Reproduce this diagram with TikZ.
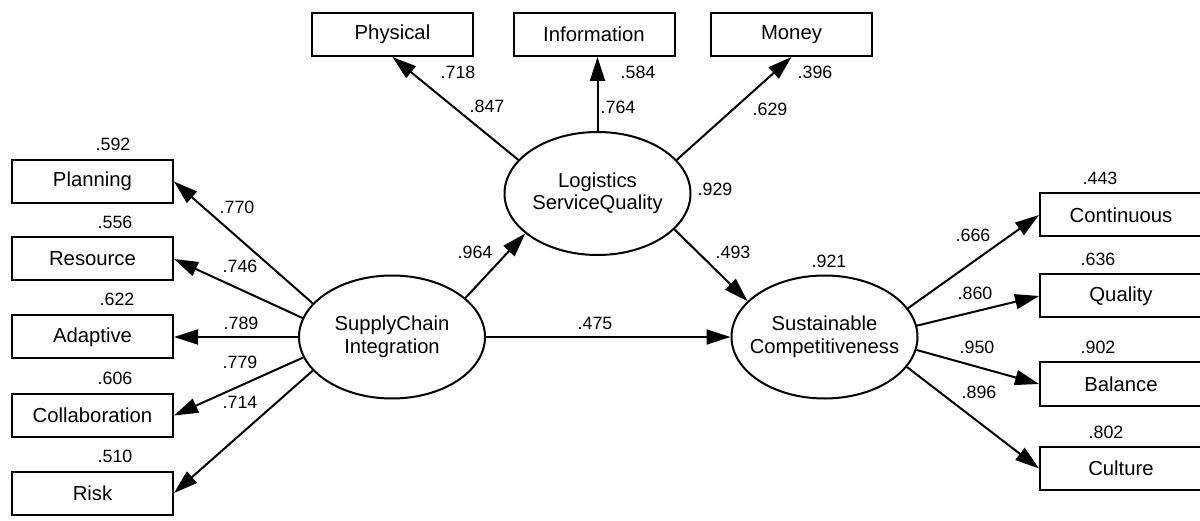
\documentclass[tikz,border=0pt]{standalone}
\usepackage{fontspec}
\setmainfont{Liberation Sans}
\usetikzlibrary{arrows.meta,shapes.geometric}
\tikzset{
  obsbox/.style={draw=black,line width=2pt,rectangle,minimum width=161pt,minimum height=43pt,inner sep=0pt,font=\fontsize{20.3}{22}\selectfont},
  latent/.style={draw=black,line width=2pt,ellipse,minimum width=186pt,minimum height=123pt,inner ysep=0pt,inner xsep=-14pt,align=center,font=\fontsize{20.2}{22.5}\selectfont},
  arr/.style={line width=2pt,-{Triangle[length=24pt,width=15pt]}},
  num/.style={inner sep=0pt,font=\fontsize{17.8}{20}\selectfont}
}
\begin{document}
\begin{tikzpicture}[x=1pt,y=-1pt]
\useasboundingbox (0,0) rectangle (1200,521);
% top indicators
\node[obsbox] (physical) at (392.5,34.5) {Physical};
\node[obsbox] (information) at (594,34.5) {Information};
\node[obsbox] (money) at (791.5,34.5) {Money};
% left indicators
\node[obsbox] (planning) at (92.5,181.5) {Planning};
\node[obsbox] (resource) at (92.5,259) {Resource};
\node[obsbox] (adaptive) at (92.5,337) {Adaptive};
\node[obsbox] (collab) at (92.5,415.5) {Collaboration};
\node[obsbox] (risk) at (92.5,493) {Risk};
% right indicators
\node[obsbox,minimum width=162pt] (continuous) at (1121,215) {Continuous};
\node[obsbox,minimum width=162pt] (quality) at (1121,296) {Quality};
\node[obsbox,minimum width=162pt] (balance) at (1121,384) {Balance};
\node[obsbox,minimum width=162pt] (culture) at (1121,468.5) {Culture};
% latent variables
\node[latent] (lsq) at (597.5,193.5) {Logistics\\ServiceQuality};
\node[latent] (sci) at (392,337) {SupplyChain\\Integration};
\node[latent] (sc) at (824.5,337) {Sustainable\\Competitiveness};
% connectors
\draw[arr] (lsq.157) -- (physical.south);
\draw[arr] (lsq.north) -- (lsq.north |- information.south);
\draw[arr] (lsq.23) -- (money.south);
\draw[arr] (sci.157) -- (planning.east);
\draw[arr] (sci.168) -- (resource.east);
\draw[arr] (sci.west) -- (adaptive.east);
\draw[arr] (sci.193) -- (collab.east);
\draw[arr] (sci.203) -- (risk.east);
\draw[arr] (sc.19) -- (continuous.west);
\draw[arr] (sc.7) -- (quality.west);
\draw[arr] (sc.-8) -- (balance.west);
\draw[arr] (sc.-20) -- (culture.west);
\draw[arr] (sci.28) -- (lsq.209);
\draw[arr] (lsq.-25) -- (sc.155);
\draw[arr] (sci.east) -- (sc.west);
% numbers
\node[num] (n718) at (458,72) {.718};
\node[num] (n847) at (487,106) {.847};
\node[num] (n584) at (638,72) {.584};
\node[num] (n764) at (618,107) {.764};
\node[num] (n396) at (815,72) {.396};
\node[num] (n629) at (770,109) {.629};
\node[num] (n929) at (715,189) {.929};
\node[num] (n592) at (113,144) {.592};
\node[num] (n770) at (237,207) {.770};
\node[num] (n556) at (115,222) {.556};
\node[num] (n746) at (240,266) {.746};
\node[num] (n622) at (117,299) {.622};
\node[num] (n789) at (241,323) {.789};
\node[num] (n779) at (240,362) {.779};
\node[num] (n606) at (115,378) {.606};
\node[num] (n714) at (240,402) {.714};
\node[num] (n510) at (115,456) {.510};
\node[num] (n964) at (475,252) {.964};
\node[num] (n475) at (595,323) {.475};
\node[num] (n493) at (733,252) {.493};
\node[num] (n921) at (829,261) {.921};
\node[num] (n443) at (1100,178) {.443};
\node[num] (n666) at (973,235) {.666};
\node[num] (n636) at (1098,259) {.636};
\node[num] (n860) at (975,293) {.860};
\node[num] (n950) at (977,347) {.950};
\node[num] (n902) at (1098,347) {.902};
\node[num] (n896) at (979,392) {.896};
\node[num] (n802) at (1106,432) {.802};
\end{tikzpicture}
\end{document}
